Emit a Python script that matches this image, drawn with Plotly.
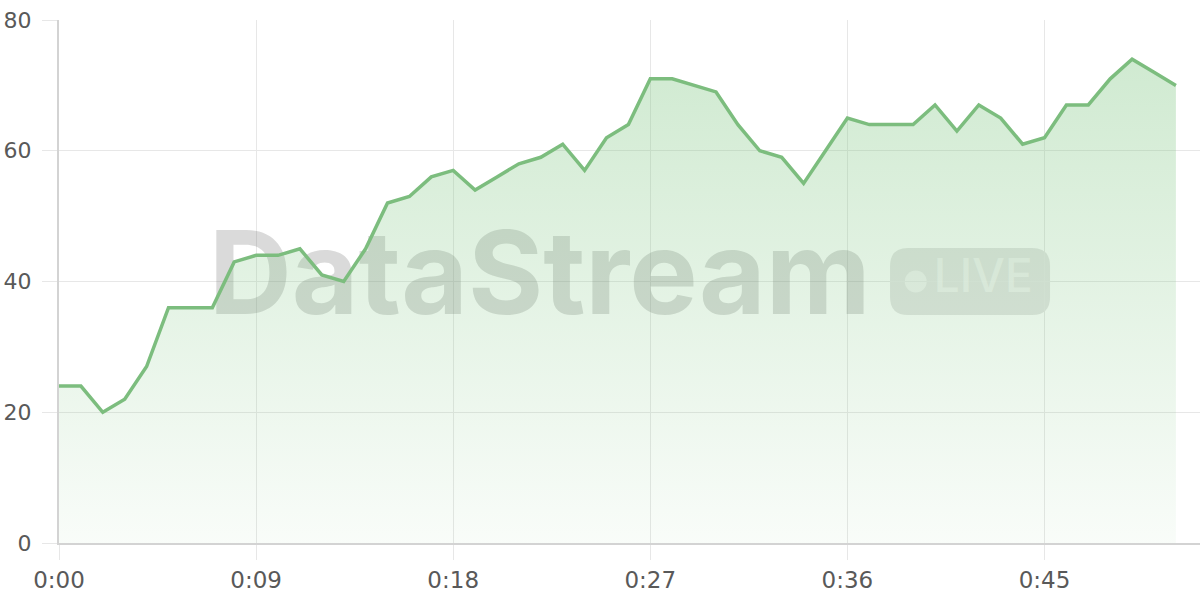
import plotly.graph_objects as go

# seconds since start and the live reading at each second
seconds = list(range(52))
values = [24, 24, 20, 22, 27, 36, 36, 36, 43, 44, 44, 45, 41, 40, 45, 52,
          53, 56, 57, 54, 56, 58, 59, 61, 57, 62, 64, 71, 71, 70, 69, 64,
          60, 59, 55, 60, 65, 64, 64, 64, 67, 63, 67, 65, 61, 62, 67, 67,
          71, 74, 72, 70]

x_ticks = [0, 9, 18, 27, 36, 45]
x_labels = ["0:00", "0:09", "0:18", "0:27", "0:36", "0:45"]
y_ticks = [0, 20, 40, 60, 80]

GREEN = "#7cbd7e"
GRID = "#e7e7e7"
AXIS = "#d3d3d3"
LABEL = "#595959"

fig = go.Figure()

# watermark (drawn first so the line sits on top of it)
fig.add_trace(go.Scatter(
    x=[21.95], y=[39.4], mode="text", text=["DataStream"],
    textposition="middle center",
    textfont=dict(family="Inter", size=115, weight=700, color="rgba(120,120,120,0.27)"),
    hoverinfo="skip", showlegend=False,
))
fig.add_trace(go.Scatter(
    x=[42.2], y=[40.1], mode="text", text=["LIVE"],
    textposition="middle center",
    textfont=dict(family="Inter", size=46, weight=500, color="rgba(255,255,255,0.5)"),
    hoverinfo="skip", showlegend=False,
))

fig.add_trace(go.Scatter(
    x=seconds, y=values, mode="lines",
    line=dict(color=GREEN, width=3.5),
    fill="tozeroy",
    fillgradient=dict(
        type="vertical", start=0, stop=80,
        colorscale=[[0, "rgba(129,199,132,0.05)"], [1, "rgba(129,199,132,0.4)"]],
    ),
    hoverinfo="x+y", showlegend=False,
))

# rounded "LIVE" badge and its dot
r = 18
w, h = 160, 67
badge = (f"M {-w/2 + r},{-h/2} L {w/2 - r},{-h/2} Q {w/2},{-h/2} {w/2},{-h/2 + r} "
         f"L {w/2},{h/2 - r} Q {w/2},{h/2} {w/2 - r},{h/2} L {-w/2 + r},{h/2} "
         f"Q {-w/2},{h/2} {-w/2},{h/2 - r} L {-w/2},{-h/2 + r} Q {-w/2},{-h/2} {-w/2 + r},{-h/2} Z")
fig.add_shape(type="path", path=badge, xref="x", yref="y",
              xsizemode="pixel", ysizemode="pixel", xanchor=41.6, yanchor=40.0,
              fillcolor="rgba(120,120,120,0.2)", line_width=0, layer="below")
fig.add_shape(type="circle", xref="x", yref="y",
              xsizemode="pixel", ysizemode="pixel", xanchor=39.12, yanchor=40.0,
              x0=-11, x1=11, y0=-11, y1=11,
              fillcolor="rgba(255,255,255,0.5)", line_width=0, layer="below")

fig.update_layout(
    width=1200, height=600,
    margin=dict(l=59, r=0, t=20, b=57),
    paper_bgcolor="white", plot_bgcolor="white",
    showlegend=False,
)
fig.update_xaxes(
    range=[0, 52.1], tickvals=x_ticks, ticktext=x_labels,
    showgrid=True, gridcolor=GRID, gridwidth=1,
    showline=True, linecolor=AXIS, linewidth=2,
    ticks="outside", ticklen=15, tickcolor=GRID, tickwidth=1,
    tickfont=dict(family="DejaVu Sans", size=23, color=LABEL),
    zeroline=False, automargin=False,
)
fig.update_yaxes(
    range=[0, 80], tickvals=y_ticks,
    showgrid=True, gridcolor=GRID, gridwidth=1,
    showline=True, linecolor=AXIS, linewidth=2,
    ticks="outside", ticklen=15, tickcolor=GRID, tickwidth=1,
    tickfont=dict(family="DejaVu Sans", size=22, color=LABEL),
    ticklabelstandoff=6,
    zeroline=False, automargin=False,
)

# page has a default 8px body margin; drop it so the figure fills the window
fig.write_html("out.html", config={"displayModeBar": False},
               post_script="document.body.style.margin='0';document.body.style.overflow='hidden';")
